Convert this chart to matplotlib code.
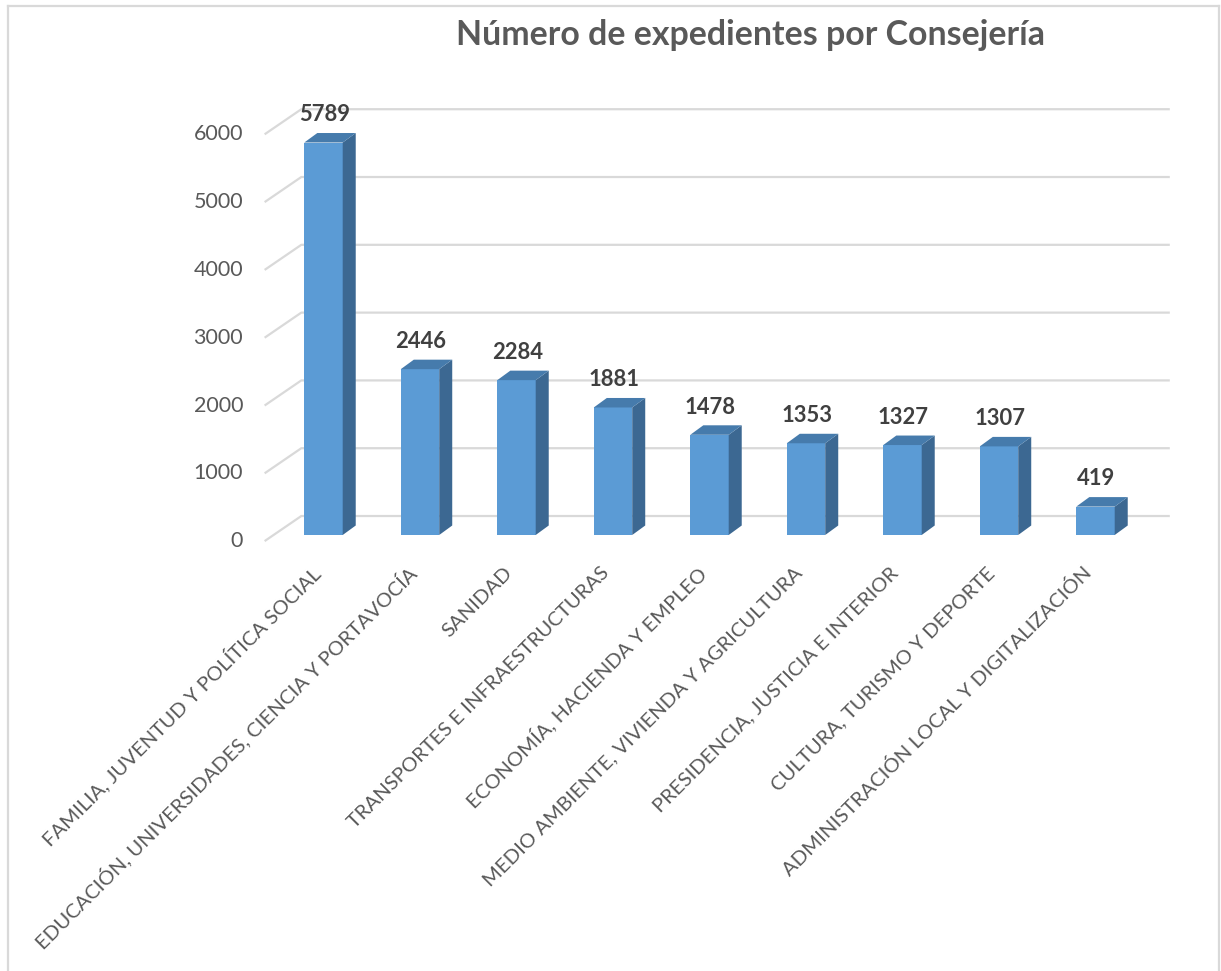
import matplotlib
matplotlib.use("Agg")
import matplotlib.pyplot as plt
from matplotlib.patches import Polygon
from matplotlib.lines import Line2D

plt.rcParams['font.family'] = ['Lato', 'DejaVu Sans']

# Datos
consejerias = [
    "FAMILIA, JUVENTUD Y POLÍTICA SOCIAL",
    "EDUCACIÓN, UNIVERSIDADES, CIENCIA Y PORTAVOCÍA",
    "SANIDAD",
    "TRANSPORTES E INFRAESTRUCTURAS",
    "ECONOMÍA, HACIENDA Y EMPLEO",
    "MEDIO AMBIENTE, VIVIENDA Y AGRICULTURA",
    "PRESIDENCIA, JUSTICIA E INTERIOR",
    "CULTURA, TURISMO Y DEPORTE",
    "ADMINISTRACIÓN LOCAL Y DIGITALIZACIÓN",
]
expedientes = [5789, 2446, 2284, 1881, 1478, 1353, 1327, 1307, 419]
ticks_y = [0, 1000, 2000, 3000, 4000, 5000, 6000]
titulo = "Número de expedientes por Consejería"

# Colores
c_frente = "#5B9BD5"
c_lado = "#3C6892"
c_tapa = "#467BAC"
c_grid = "#D9D9D9"
c_texto = "#595959"

W, H = 1221, 971
fig = plt.figure(figsize=(W / 100, H / 100), dpi=100)

# escala en pixeles (plano frontal de las barras)
x0_px, paso_px = 323.5, 96.5
y0_px, k_px = 535.0, 0.0678
xlim = (-0.7, 8.8)
ylim = (-300, 6600)
izq = x0_px + xlim[0] * paso_px
der = x0_px + xlim[1] * paso_px
abajo = y0_px - ylim[0] * k_px
arriba = y0_px - ylim[1] * k_px
ax = fig.add_axes([izq / W, (H - abajo) / H, (der - izq) / W, (abajo - arriba) / H])
ax.set_xlim(*xlim)
ax.set_ylim(*ylim)
ax.axis("off")

# pared del fondo (rejilla en perspectiva)
gx0, gx1 = -0.61, 8.77
pared_dx, pared_dy, frente_dy = 0.38, 370, -90
for g in ticks_y:
    yf = g + frente_dy
    ax.plot([gx0, gx0 + pared_dx, gx1], [yf, yf + pared_dy, yf + pared_dy],
            color=c_grid, lw=1.6, zorder=1, solid_capstyle="butt")
    ax.text(-0.834, yf, str(g), ha="right", va="center", fontsize=15.5, color=c_texto)

# barras 3D
ancho = 0.398
ddx, ddy = 0.135, 140
xs = list(range(len(expedientes)))
ax.bar(xs, expedientes, width=ancho, color=c_frente, zorder=3)
for x, v in zip(xs, expedientes):
    l, r = x - ancho / 2, x + ancho / 2
    ax.add_patch(Polygon([(r, 0), (r + ddx, ddy), (r + ddx, v + ddy), (r, v)],
                         closed=True, facecolor=c_lado, edgecolor="none", zorder=3))
    ax.add_patch(Polygon([(l, v), (l + ddx, v + ddy), (r + ddx, v + ddy), (r, v)],
                         closed=True, facecolor=c_tapa, edgecolor="none", zorder=3))
    ax.text(x + 0.01, v + ddy + 115, str(v), ha="center", va="bottom",
            fontsize=15.8, fontweight="bold", color="#404040", zorder=4)

# etiquetas de categorías
for x, nombre in zip(xs, consejerias):
    ax.text(x - 0.07, -520, nombre, rotation=45, rotation_mode="anchor",
            ha="right", va="center", fontsize=14.6, color=c_texto)

# título
fig.text(751 / W, (H - 45) / H, titulo, ha="center", va="baseline",
         fontsize=24.4, fontweight="bold", color=c_texto)

# marco
for xx, yy in [([8, 8], [6, H]), ([8, 1219], [6, 6]), ([1219, 1219], [6, H])]:
    fig.add_artist(Line2D([v / W for v in xx], [(H - v) / H for v in yy],
                          color=c_grid, lw=1.6))

fig.savefig("out.png", dpi=100)
